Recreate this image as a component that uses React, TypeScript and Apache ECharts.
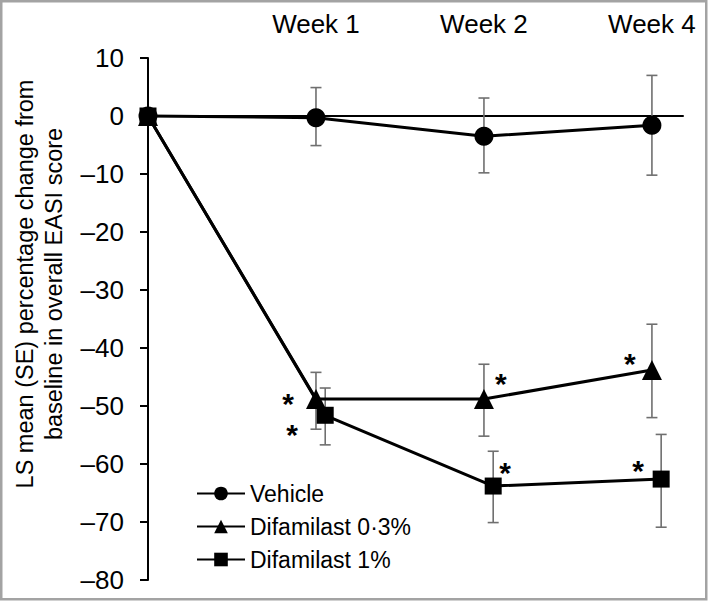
import React, { useEffect, useRef } from 'react';
import * as echarts from 'echarts';

// ---- data ----
const timeLabels = ['Baseline', 'Week 1', 'Week 2', 'Week 4'];
const timeIndex = [0, 1, 2, 3];
const seriesNames = ['Vehicle', 'Difamilast 0·3%', 'Difamilast 1%'];

const vehicleMean = [0, -0.3, -3.5, -1.6];
const vehicleUpper = [0, 4.9, 3.1, 7.0];
const vehicleLower = [0, -5.1, -9.8, -10.2];

const dif03Mean = [0, -48.8, -48.8, -43.8];
const dif03Upper = [0, -44.2, -42.8, -35.9];
const dif03Lower = [0, -54.0, -55.2, -52.0];

const dif1Mean = [0, -51.6, -63.8, -62.6];
const dif1Upper = [0, -46.9, -57.8, -54.9];
const dif1Lower = [0, -56.7, -70.1, -70.9];

const dif03Sig = [false, true, true, true];
const dif1Sig = [false, true, true, true];

const yMin = -80;
const yMax = 10;
const yInterval = 10;

// ---- styles ----
const FONT = "'Liberation Sans', Arial, Helvetica, sans-serif";
const dif1Shift = 0.055; // small horizontal dodge of the 1% series (not at baseline)
const dif03StarOffsets = [[0, 0], [-28, 4], [17, -16], [-22, -7]];
const dif1StarOffsets = [[0, 0], [-33, 19], [12, -14], [-23, -9]];

function xPos(i: number, shift: number) {
  return timeIndex[i] === 0 ? timeIndex[i] : timeIndex[i] + shift;
}

function lineData(mean: number[], shift: number, sig?: boolean[], offsets?: number[][]) {
  return mean.map((v, i) => ({
    value: [xPos(i, shift), v],
    label: sig && sig[i]
      ? { show: true, offset: offsets ? offsets[i] : [0, 0] }
      : { show: false },
  }));
}

function errData(lower: number[], upper: number[], shift: number) {
  return lower.map((lo, i) => [xPos(i, shift), lo, upper[i]]);
}

const errRender = (params: any, api: any) => {
  const x = api.value(0);
  const lo = api.value(1);
  const hi = api.value(2);
  if (lo === hi) return null;
  const top = api.coord([x, hi]);
  const bot = api.coord([x, lo]);
  const cap = 5.5;
  const style = { stroke: '#6f6f6f', lineWidth: 1.6 };
  return {
    type: 'group',
    children: [
      { type: 'line', shape: { x1: top[0], y1: top[1], x2: bot[0], y2: bot[1] }, style },
      { type: 'line', shape: { x1: top[0] - cap, y1: top[1], x2: top[0] + cap, y2: top[1] }, style },
      { type: 'line', shape: { x1: bot[0] - cap, y1: bot[1], x2: bot[0] + cap, y2: bot[1] }, style },
    ],
  };
};

const starLabel = {
  position: 'inside',
  formatter: '*',
  color: '#000',
  fontSize: 30,
  fontWeight: 'bold',
  fontFamily: FONT,
};

export default function App() {
  const ref = useRef<HTMLDivElement>(null);

  useEffect(() => {
    if (!ref.current) return;
    const chart = echarts.init(ref.current, null, { renderer: 'svg' });
    const option: any = {
      animation: false,
      backgroundColor: '#fff',
      textStyle: { fontFamily: FONT },
      grid: { left: 148, top: 58, width: 535, height: 522, containLabel: false },
      xAxis: [
        {
          type: 'value',
          min: 0,
          max: 3.185,
          interval: 1,
          axisLine: { show: true, onZero: true, lineStyle: { color: '#000', width: 2 } },
          axisTick: { show: false },
          axisLabel: { show: false },
          splitLine: { show: false },
        },
        {
          type: 'value',
          position: 'top',
          min: 0,
          max: 3.185,
          interval: 1,
          axisLine: { show: false, onZero: false },
          axisTick: { show: false },
          splitLine: { show: false },
          axisLabel: {
            show: true,
            margin: 21,
            fontSize: 26,
            color: '#000',
            fontFamily: FONT,
            showMaxLabel: false,
            formatter: (v: number) => (Number.isInteger(v) && v > 0 ? timeLabels[v] : ''),
          },
        },
      ],
      yAxis: {
        type: 'value',
        min: yMin,
        max: yMax,
        interval: yInterval,
        axisLine: { show: true, onZero: false, lineStyle: { color: '#000', width: 2 } },
        axisTick: { show: true, inside: false, length: 8, lineStyle: { color: '#000', width: 2 } },
        splitLine: { show: false },
        axisLabel: {
          margin: 24,
          fontSize: 26,
          color: '#000',
          fontFamily: FONT,
          formatter: (v: number) => String(v).replace('-', '\u2013'),
        },
      },
      legend: {
        data: seriesNames,
        orient: 'vertical',
        left: 191,
        top: 477,
        itemWidth: 48,
        itemHeight: 17,
        itemGap: 10,
        textStyle: { fontSize: 23, color: '#000', fontFamily: FONT },
      },
      graphic: [
        {
          type: 'text',
          x: 39,
          y: 284,
          rotation: Math.PI / 2,
          style: {
            text: 'LS mean (SE) percentage change from\nbaseline in overall EASI score',
            align: 'center',
            verticalAlign: 'middle',
            fontSize: 23.5,
            lineHeight: 29,
            fontFamily: FONT,
            fill: '#000',
          },
        },
        {
          type: 'rect',
          shape: { x: 1.25, y: 1.25, width: 705, height: 598 },
          style: { fill: 'none', stroke: '#a3a3a3', lineWidth: 2.5 },
          silent: true,
        },
      ],
      series: [
        {
          name: 'Vehicle SE',
          type: 'custom',
          renderItem: errRender,
          data: errData(vehicleLower, vehicleUpper, 0),
          encode: { x: 0, y: [1, 2] },
          z: 1,
        },
        {
          name: 'Difamilast 0·3% SE',
          type: 'custom',
          renderItem: errRender,
          data: errData(dif03Lower, dif03Upper, 0),
          encode: { x: 0, y: [1, 2] },
          z: 1,
        },
        {
          name: 'Difamilast 1% SE',
          type: 'custom',
          renderItem: errRender,
          data: errData(dif1Lower, dif1Upper, dif1Shift),
          encode: { x: 0, y: [1, 2] },
          z: 1,
        },
        {
          name: seriesNames[2],
          type: 'line',
          data: lineData(dif1Mean, dif1Shift, dif1Sig, dif1StarOffsets),
          symbol: 'rect',
          symbolSize: 17,
          lineStyle: { color: '#000', width: 3 },
          itemStyle: { color: '#000' },
          label: starLabel,
          z: 3,
        },
        {
          name: seriesNames[1],
          type: 'line',
          data: lineData(dif03Mean, 0, dif03Sig, dif03StarOffsets),
          symbol: 'triangle',
          symbolSize: 20,
          lineStyle: { color: '#000', width: 3 },
          itemStyle: { color: '#000' },
          label: starLabel,
          z: 4,
        },
        {
          name: seriesNames[0],
          type: 'line',
          data: lineData(vehicleMean, 0),
          symbol: 'circle',
          symbolSize: 19,
          lineStyle: { color: '#000', width: 3 },
          itemStyle: { color: '#000' },
          z: 5,
        },
      ],
    };
    chart.setOption(option);
    return () => chart.dispose();
  }, []);

  return (
    <div
      ref={ref}
      style={{ position: 'absolute', left: 0, top: 0, width: 709, height: 602, background: '#fff' }}
    />
  );
}
